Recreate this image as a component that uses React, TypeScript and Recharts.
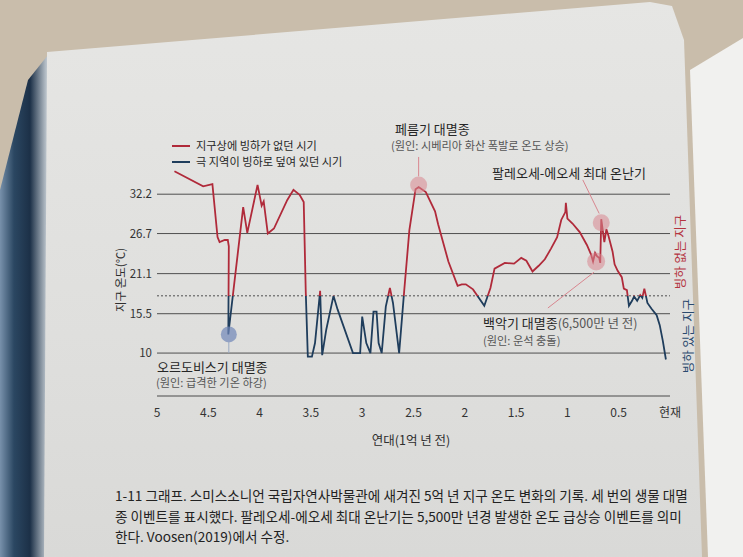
import { LineChart, Line, XAxis, YAxis, ReferenceLine, ReferenceDot } from "recharts";

// age in 100 Myr before present, temperature in °C
const ages = [
  4.83, 4.55, 4.46, 4.41, 4.39, 4.34, 4.31, 4.3, 4.305, 4.16, 4.12, 4.02, 3.98, 3.96, 3.92, 3.86,
  3.73, 3.67, 3.61, 3.57, 3.55, 3.53, 3.49, 3.46, 3.41, 3.39, 3.35, 3.28, 3.24, 3.09, 3.02, 3.0,
  2.96, 2.92, 2.89, 2.86, 2.84, 2.81, 2.77, 2.73, 2.7, 2.64, 2.59, 2.54, 2.48, 2.45, 2.38, 2.29,
  2.26, 2.16, 2.07, 2.03, 1.99, 1.92, 1.81, 1.75, 1.71, 1.61, 1.52, 1.45, 1.4, 1.34, 1.28, 1.22,
  1.16, 1.1, 1.06, 1.02, 1.015, 1.0, 0.95, 0.88, 0.81, 0.77, 0.75, 0.73, 0.71, 0.69, 0.68, 0.67,
  0.64, 0.62, 0.6, 0.56, 0.54, 0.51, 0.47, 0.45, 0.42, 0.4, 0.37, 0.35, 0.32, 0.29, 0.27, 0.25,
  0.22, 0.18, 0.13, 0.1, 0.07, 0.04,
];
const temps = [
  35.4, 33.3, 33.6, 26.2, 25.5, 25.8, 25.8, 24.9, 12.6, 30.4, 26.8, 33.5, 30.6, 31.2, 26.7, 27.4,
  31.4, 32.8, 32.1, 31.1, 18.5, 9.5, 9.5, 11.4, 18.7, 9.7, 13.3, 18.0, 16.1, 10.0, 10.0, 15.1,
  11.4, 10.0, 15.8, 15.8, 11.4, 10.0, 16.5, 19.1, 17.0, 10.0, 18.8, 27.2, 32.9, 33.2, 32.5, 29.8,
  28.0, 22.8, 19.4, 19.6, 19.6, 18.9, 16.6, 19.1, 21.8, 22.6, 22.5, 23.3, 22.9, 21.4, 22.2, 23.1,
  24.6, 26.2, 28.6, 29.7, 31.0, 28.8, 28.1, 26.9, 25.1, 23.8, 22.8, 24.0, 23.5, 23.3, 22.6, 28.7,
  25.5, 27.3, 26.4, 24.2, 22.4, 21.5, 20.6, 19.0, 18.8, 16.6, 17.3, 17.9, 17.3, 18.1, 17.7, 19.0,
  17.0, 16.2, 15.3, 13.9, 11.7, 9.1,
];
const xTicks = [5, 4.5, 4, 3.5, 3, 2.5, 2, 1.5, 1, 0.5, 0];
const yTicks = [10, 15.5, 18, 21.1, 26.7, 32.2];
const iceLine = 18;

const data = ages.map((age, i) => ({ age, temp: temps[i] }));
const tMax = Math.max(...temps);
const tMin = Math.min(...temps);
const iceOffset = (tMax - iceLine) / (tMax - tMin);

const RED = "#b02a3a";
const BLUE = "#1f3d5c";
const PINK = "#d8868f";
const FONT = "'Noto Sans CJK KR', 'Noto Sans', sans-serif";

const XTick = ({ x, y, payload }: any) => (
  <text x={x} y={y} dy="0.71em" textAnchor="middle" fontSize={12} fill="#333" fontFamily={FONT}>
    {payload.value === 0 ? "현재" : payload.value}
  </text>
);

const YTick = ({ x, y, payload }: any) => (
  <text x={x} y={y} dy="0.36em" textAnchor="end" fontSize={11.5} fill="#333" fontFamily={FONT}>
    {payload.value}
  </text>
);

function Note({ x, y, size = 13, color = "#262626", children }: any) {
  return (
    <div
      style={{
        position: "absolute", left: x, top: y - size / 2, fontSize: size, lineHeight: 1,
        color, whiteSpace: "nowrap", fontFamily: FONT,
      }}
    >
      {children}
    </div>
  );
}

function VNote({ x, y, size = 12.5, color = "#2e2e2e", children }: any) {
  return (
    <div
      style={{
        position: "absolute", left: x, top: y, fontSize: size, lineHeight: 1, color,
        whiteSpace: "nowrap", fontFamily: FONT, transform: "translate(-50%, -50%) rotate(-90deg)",
      }}
    >
      {children}
    </div>
  );
}

const layer = (clip: string, background: string) => (
  <div style={{ position: "absolute", left: 0, top: 0, width: 743, height: 557, clipPath: clip, background }} />
);

export default function App() {
  return (
    <div style={{ position: "absolute", left: 0, top: 0, width: 743, height: 557, overflow: "hidden", background: "#c9bdab" }}>
      {/* photo backdrop: book spine, page, next page */}
      {layer("polygon(0px 190px, 28px 80px, 48px 55px, 48px 557px, 0px 557px)",
        "linear-gradient(90deg, #7891ab 0px, #2b4762 14px, #1c3047 30px, #b7c0c8 46px)")}
      {layer("polygon(47px 52px, 650px 2px, 672px 6px, 684px 40px, 702px 557px, 44px 557px)",
        "linear-gradient(180deg, #e6e6e4 0%, #dfdfdd 60%, #d9d9d7 100%)")}
      {layer("polygon(690px 70px, 743px 38px, 743px 557px, 708px 557px)", "#f1f1ef")}

      <div style={{ position: "absolute", left: 0, top: 0 }}>
        <LineChart width={743} height={557} data={data} margin={{ top: 167, right: 73, bottom: 131, left: 0 }}>
          <defs>
            <linearGradient id="iceGrad" x1="0" y1="0" x2="0" y2="1">
              <stop offset={0} stopColor={RED} />
              <stop offset={iceOffset} stopColor={RED} />
              <stop offset={iceOffset} stopColor={BLUE} />
              <stop offset={1} stopColor={BLUE} />
            </linearGradient>
          </defs>
          <XAxis
            dataKey="age" type="number" domain={[0, 5]} reversed ticks={xTicks}
            axisLine={{ stroke: "#4a4a4a", strokeWidth: 1 }} tickLine={false} tickSize={0} tickMargin={12}
            tick={<XTick />} height={30}
          />
          <YAxis
            type="number" domain={[4, 36]} ticks={yTicks} width={157}
            axisLine={false} tickLine={false} tickSize={0} tickMargin={5} tick={<YTick />}
          />
          {yTicks.map((v) => (
            <ReferenceLine
              key={v} y={v} stroke="#4f4f4f" strokeWidth={1}
              strokeDasharray={v === iceLine ? "2 2" : undefined}
            />
          ))}
          <Line
            type="linear" dataKey="temp" stroke="url(#iceGrad)" strokeWidth={1.8}
            dot={false} isAnimationActive={false}
          />
          <ReferenceLine segment={[{ x: 2.45, y: 37.4 }, { x: 2.45, y: 34.7 }]} stroke={PINK} strokeWidth={1} ifOverflow="visible" />
          <ReferenceLine segment={[{ x: 0.85, y: 34.2 }, { x: 0.69, y: 29.5 }]} stroke={PINK} strokeWidth={1} ifOverflow="visible" />
          <ReferenceLine segment={[{ x: 0.74, y: 21.3 }, { x: 1.19, y: 16.3 }]} stroke={PINK} strokeWidth={1} ifOverflow="visible" />
          <ReferenceLine segment={[{ x: 4.3, y: 11.5 }, { x: 4.3, y: 10 }]} stroke="#9aaac4" strokeWidth={1} ifOverflow="visible" />
          <ReferenceDot x={2.45} y={33.5} r={8.5} fill={PINK} fillOpacity={0.55} stroke="none" />
          <ReferenceDot x={0.67} y={28.2} r={8.5} fill={PINK} fillOpacity={0.55} stroke="none" />
          <ReferenceDot x={0.72} y={22.8} r={9} fill={PINK} fillOpacity={0.55} stroke="none" />
          <ReferenceDot x={4.3} y={12.6} r={8} fill="#6f86b8" fillOpacity={0.7} stroke="none" />
        </LineChart>
      </div>

      {/* legend */}
      <div style={{ position: "absolute", left: 172, top: 145, width: 18, height: 2, background: RED }} />
      <Note x={196} y={146} size={11.2}>지구상에 빙하가 없던 시기</Note>
      <div style={{ position: "absolute", left: 172, top: 161, width: 18, height: 2, background: BLUE }} />
      <Note x={196} y={162} size={11.2}>극 지역이 빙하로 덮여 있던 시기</Note>

      {/* annotations */}
      <Note x={395} y={128}>페름기 대멸종</Note>
      <Note x={391} y={146} size={11.2} color="#555">(원인: 시베리아 화산 폭발로 온도 상승)</Note>
      <Note x={492} y={172}>팔레오세-에오세 최대 온난기</Note>
      <Note x={483} y={322}>
        백악기 대멸종<span style={{ fontSize: 12.5, color: "#555" }}>(6,500만 년 전)</span>
      </Note>
      <Note x={483} y={341} size={11.2} color="#555">(원인: 운석 충돌)</Note>
      <Note x={157} y={366}>오르도비스기 대멸종</Note>
      <Note x={156} y={383} size={11.2} color="#555">(원인: 급격한 기온 하강)</Note>

      <div
        style={{
          position: "absolute", left: 411, top: 440 - 6, transform: "translateX(-50%)", fontSize: 12.5,
          lineHeight: 1, color: "#2e2e2e", whiteSpace: "nowrap", fontFamily: FONT,
        }}
      >
        연대(1억 년 전)
      </div>
      <VNote x={121} y={280} size={11.5}>지구 온도(℃)</VNote>
      <VNote x={680} y={252} color="#b4343f">빙하 없는 지구</VNote>
      <VNote x={688} y={336} color="#2b4a6e">빙하 있는 지구</VNote>

      {/* caption */}
      <Note x={115} y={496} size={13.6} color="#222">
        1-11 그래프. 스미스소니언 국립자연사박물관에 새겨진 5억 년 지구 온도 변화의 기록. 세 번의 생물 대멸
      </Note>
      <Note x={115} y={517} size={13.6} color="#222">
        종 이벤트를 표시했다. 팔레오세-에오세 최대 온난기는 5,500만 년경 발생한 온도 급상승 이벤트를 의미
      </Note>
      <Note x={115} y={537} size={13.6} color="#222">
        한다. Voosen(2019)에서 수정.
      </Note>
    </div>
  );
}
